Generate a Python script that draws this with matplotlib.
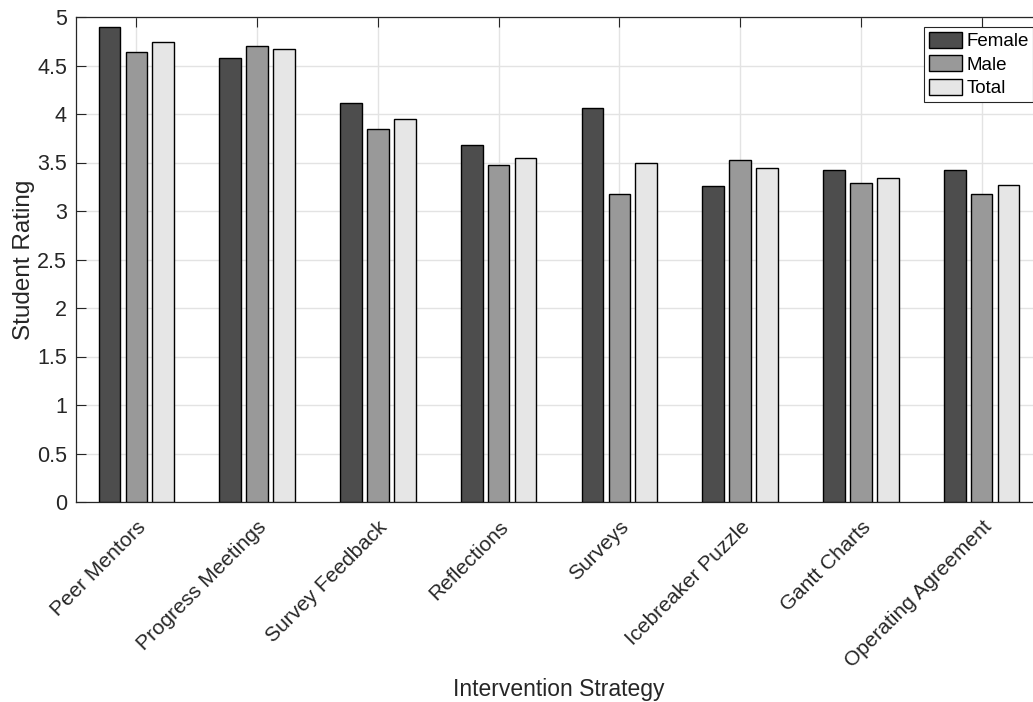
import numpy as np
import matplotlib
matplotlib.use('Agg')
import matplotlib.pyplot as plt

plt.rcParams['font.family'] = ['Liberation Sans', 'DejaVu Sans']

strategies = ['Peer Mentors', 'Progress Meetings', 'Survey Feedback', 'Reflections',
              'Surveys', 'Icebreaker Puzzle', 'Gantt Charts', 'Operating Agreement']
female = [4.90, 4.58, 4.11, 3.68, 4.06, 3.26, 3.42, 3.42]
male = [4.64, 4.70, 3.85, 3.47, 3.18, 3.53, 3.29, 3.18]
total = [4.74, 4.67, 3.95, 3.55, 3.49, 3.44, 3.34, 3.27]
series_names = ['Female', 'Male', 'Total']
series_colors = ['#4d4d4d', '#999999', '#e6e6e6']
yticks = [0, 0.5, 1, 1.5, 2, 2.5, 3, 3.5, 4, 4.5, 5]
ytick_labels = ['0', '0.5', '1', '1.5', '2', '2.5', '3', '3.5', '4', '4.5', '5']

fig = plt.figure(figsize=(10.33, 7.02), dpi=100)
# axes runs a little past the right edge, as in the reference
ax = fig.add_axes([76 / 1033, 200 / 702, 966 / 1033, 485 / 702])

x = np.arange(1, len(strategies) + 1)
offsets = [-0.223, 0.0, 0.223]
for vals, name, col, off in zip([female, male, total], series_names, series_colors, offsets):
    ax.bar(x + off, vals, width=0.18, color=col, edgecolor='black',
           linewidth=1.0, label=name, zorder=3)

ax.set_xlim(0.5, 8.5)
ax.set_ylim(0, 5)
ax.set_xticks(x)
ax.set_xticklabels(strategies, rotation=45, ha='right', va='top',
                   rotation_mode='anchor', fontsize=15, color='#262626')
ax.set_yticks(yticks)
ax.set_yticklabels(ytick_labels, fontsize=15.5, color='#262626')
ax.tick_params(direction='in', length=7, width=0.8, top=True, right=False,
               color='#262626', pad=6.5)
ax.tick_params(axis='x', pad=11)

ax.grid(True, color='#e3e3e3', linewidth=1.0, zorder=0)
ax.set_axisbelow(True)
for s in ax.spines.values():
    s.set_color('#262626')
    s.set_linewidth(0.9)

ax.set_xlabel('Intervention Strategy', fontsize=16.5, color='#262626', labelpad=5)
ax.set_ylabel('Student Rating', fontsize=17.5, color='#262626', labelpad=1.5)

leg = ax.legend(loc='upper left', bbox_to_anchor=(924 / 1033, 1 - 27 / 702),
                bbox_transform=fig.transFigure, fontsize=13.5, frameon=True,
                fancybox=False, edgecolor='#262626', framealpha=1,
                handlelength=1.8, handleheight=0.95, handletextpad=0.2,
                labelspacing=0.27, borderpad=0.25, borderaxespad=0)
leg.get_frame().set_linewidth(0.8)
leg.set_zorder(5)

fig.savefig('out.png', dpi=100)
